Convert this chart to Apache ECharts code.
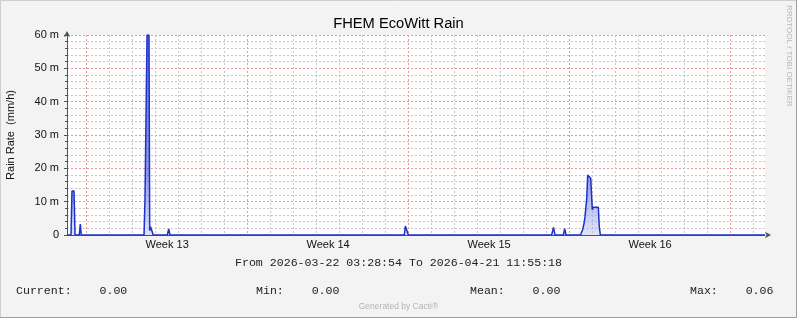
<!DOCTYPE html>
<html>
<head>
<meta charset="utf-8">
<script src="https://cdn.jsdelivr.net/npm/echarts@6/dist/echarts.min.js"></script>
<style>
html,body{margin:0;padding:0;background:#f3f3f3;}
#c{width:797px;height:318px;}
</style>
</head>
<body>
<div id="c"></div>
<script>
// ---------------- data ----------------
const chartTitle = 'FHEM EcoWitt Rain';
const yAxisName = 'Rain Rate  (mm/h)';
const rangeStartText = '2026-03-22 03:28:54';
const rangeEndText = '2026-04-21 11:55:18';
const weekLabels = ['Week 13', 'Week 14', 'Week 15', 'Week 16'];
const yTickLabels = ['0', '10 m', '20 m', '30 m', '40 m', '50 m', '60 m'];
// time of each reading, hours since range start
const rainHours = [0, 4.2, 5.2, 7.3, 8.4, 12.8, 13.9, 14.9,
  80.4, 81.4, 82.8, 83.5, 85.6, 86.3, 87.2, 88.7, 90.0,
  104.7, 106.1, 107.5,
  352.0, 353.1, 355.1, 356.2,
  505.8, 507.7, 509.3,
  518.0, 519.4, 520.8,
  535.9, 538.0, 539.6, 540.6, 542.4, 543.4, 545.3, 546.6, 547.6, 548.2, 549.3, 554.5, 555.5, 556.6,
  728.4];
// rain rate, milli mm/h ("m" unit on the axis)
const rainRate = [0, 0, 13.2, 13.2, 0, 0, 3.3, 0,
  0, 10.9, 10.9, 60, 60, 1.3, 2.5, 2.5, 0,
  0, 1.8, 0,
  0, 2.7, 2.7, 0,
  0, 2.3, 0,
  0, 1.9, 0,
  0, 1.5, 3.5, 5.5, 11, 18, 18.2, 17, 17, 7.6, 8.3, 8.3, 2.5, 0,
  0];
const statNames = ['Current:', 'Min:', 'Mean:', 'Max:'];
const statValues = ['0.00', '0.00', '0.00', '0.06'];

// ---------------- derived ----------------
function parseUTC(s) {
  const [d, t] = s.split(' ');
  const [Y, M, D] = d.split('-').map(Number);
  const [h, m, sec] = t.split(':').map(Number);
  return Date.UTC(Y, M - 1, D, h, m, sec);
}
const HOUR = 3600e3, DAY = 86400e3;
const t0 = parseUTC(rangeStartText), t1 = parseUTC(rangeEndText);
const spanHours = (t1 - t0) / HOUR;
const dayLines = [], weekLines = [];
for (let t = Math.ceil(t0 / DAY) * DAY; t <= t1; t += DAY) {
  const h = (t - t0) / HOUR;
  if (new Date(t).getUTCDay() === 1) weekLines.push(h); else dayLines.push(h);
}
const weekCenters = weekLines.map(h => h + 84).filter(h => h <= spanHours);
const seriesData = rainHours.map((h, i) => [h, rainRate[i]]);

const FONT = 'Liberation Sans';
const MONO = 'Liberation Mono';
const AXIS_COL = '#3f5b55';
const MINOR = '#c6c6c6';
const MAJOR = '#eb9a9a';

const statX = [16, 256, 470, 690];
const graphics = [
  {type: 'text', left: 'center', top: 257, style: {text: 'From ' + rangeStartText + ' To ' + rangeEndText, font: '11.6px "' + MONO + '"', fill: '#222'}},
  {type: 'text', left: 'center', top: 302, style: {text: 'Generated by Cacti\u00ae', font: '8.5px "' + FONT + '"', fill: '#b4b4b4'}},
  {type: 'text', x: 793.5, y: 5, rotation: -Math.PI / 2, style: {text: 'RRDTOOL / TOBI OETIKER', font: '8px "' + FONT + '"', fill: '#b8b8b8', align: 'left', verticalAlign: 'top'}},
  {type: 'polyline', shape: {points: [[0.5, 317], [0.5, 0.5], [797, 0.5]]}, style: {stroke: '#cfcfcf', lineWidth: 1, fill: null}},
  {type: 'polyline', shape: {points: [[796.5, 0], [796.5, 317.5], [0, 317.5]]}, style: {stroke: '#9e9e9e', lineWidth: 1, fill: null}}
];
statNames.forEach((n, i) => {
  graphics.push({type: 'text', x: statX[i], y: 291, style: {text: n + '    ' + statValues[i], font: '11.6px "' + MONO + '"', fill: '#222', verticalAlign: 'middle'}});
});

const chart = echarts.init(document.getElementById('c'), null, {renderer: 'canvas'});
chart.setOption({
  backgroundColor: '#f3f3f3',
  animation: false,
  title: {
    text: chartTitle, left: 'center', top: 11,
    textStyle: {fontFamily: FONT, fontSize: 14.7, fontWeight: 'normal', color: '#000'}
  },
  grid: {left: 67, right: 32, top: 35, bottom: 83, show: true, backgroundColor: '#ffffff', borderWidth: 0,
    containLabel: false, outerBoundsMode: 'none'},
  xAxis: [
    {
      type: 'value', min: 0, max: spanHours, position: 'bottom',
      axisLine: {show: true, onZero: false, lineStyle: {color: AXIS_COL, width: 1}, symbol: ['none', 'arrow'], symbolSize: [5, 6], symbolOffset: [0, 6]},
      axisTick: {show: false, customValues: dayLines},
      axisLabel: {
        show: true, customValues: weekCenters, margin: 4,
        fontFamily: FONT, fontSize: 11, color: '#111',
        formatter: function (v) {
          let best = 0;
          weekCenters.forEach((c, i) => { if (Math.abs(c - v) < Math.abs(weekCenters[best] - v)) best = i; });
          return weekLabels[best];
        }
      },
      splitLine: {show: true, lineStyle: {color: MINOR, width: 1, type: [2, 2]}}
    },
    {
      type: 'value', min: 0, max: spanHours, position: 'bottom',
      axisLine: {show: false},
      axisTick: {show: false, customValues: weekLines},
      axisLabel: {show: false},
      splitLine: {show: true, lineStyle: {color: MAJOR, width: 1, type: [2, 2]}}
    }
  ],
  yAxis: {
    type: 'value', min: 0, max: 60, interval: 10,
    name: yAxisName, nameLocation: 'middle', nameRotate: 90, nameGap: 50.5,
    nameTextStyle: {fontFamily: FONT, fontSize: 11, color: '#111'},
    axisLine: {show: true, lineStyle: {color: AXIS_COL, width: 1}, symbol: ['none', 'arrow'], symbolSize: [5, 6], symbolOffset: [0, 4]},
    axisTick: {show: true, length: 3, lineStyle: {color: AXIS_COL}},
    minorTick: {show: true, splitNumber: 5, length: 2, lineStyle: {color: AXIS_COL}},
    axisLabel: {
      margin: 8, fontFamily: FONT, fontSize: 11, color: '#111',
      formatter: v => yTickLabels[Math.round(v / 10)]
    },
    splitLine: {show: true, lineStyle: {color: MAJOR, width: 1, type: [2, 2]}},
    minorSplitLine: {show: true, lineStyle: {color: MINOR, width: 1, type: [2, 2]}}
  },
  series: [{
    type: 'line', xAxisIndex: 0, data: seriesData,
    showSymbol: false, symbol: 'none', z: 5,
    lineStyle: {color: '#1c30cc', width: 1.5},
    areaStyle: {
      color: new echarts.graphic.LinearGradient(0, 0, 0, 1, [
        {offset: 0, color: 'rgba(28,48,204,0.9)'},
        {offset: 0.7, color: 'rgba(55,75,215,0.8)'},
        {offset: 1, color: 'rgba(170,180,240,0.55)'}
      ])
    }
  }],
  graphic: graphics
});
</script>
</body>
</html>
